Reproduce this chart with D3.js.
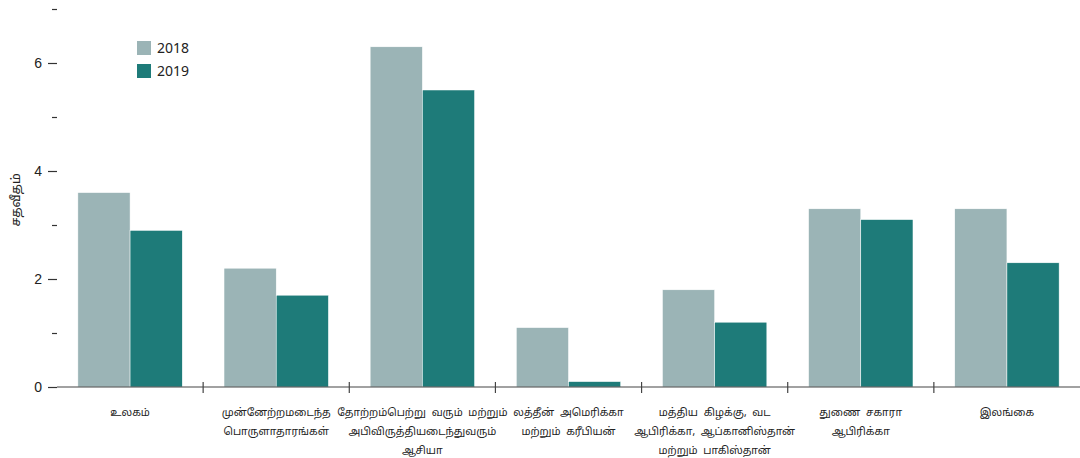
<!DOCTYPE html>
<html>
<head>
<meta charset="utf-8">
<script src="https://cdn.jsdelivr.net/npm/d3@7/dist/d3.min.js"></script>
<style>
  body { margin: 0; background: #fff; }
  svg { display: block; font-family: "Noto Sans", "Open Sans", sans-serif; }
  .cat { font-family: "Noto Sans Tamil", "Lohit Tamil", "Noto Sans", sans-serif; }
</style>
</head>
<body>
<svg id="chart" width="1080" height="458"></svg>
<script>
// categories, each split into the lines shown under the axis
const categories = [
  ["உலகம்"],
  ["முன்னேற்றமடைந்த", "பொருளாதாரங்கள்"],
  ["தோற்றம்பெற்று வரும் மற்றும்", "அபிவிருத்தியடைந்துவரும்", "ஆசியா"],
  ["லத்தீன் அமெரிக்கா", "மற்றும் கரீபியன்"],
  ["மத்திய கிழக்கு, வட", "ஆபிரிக்கா, ஆப்கானிஸ்தான்", "மற்றும் பாகிஸ்தான்"],
  ["துணை சகாரா", "ஆபிரிக்கா"],
  ["இலங்கை"]
];
const years = ["2018", "2019"];
const values2018 = [3.6, 2.2, 6.3, 1.1, 1.8, 3.3, 3.3];
const values2019 = [2.9, 1.7, 5.5, 0.1, 1.2, 3.1, 2.3];
const yTicks = [0, 2, 4, 6];
const yMinorTicks = [1, 3, 5, 7];
const colors = ["#9bb4b6", "#1e7b79"];
const yLabel = "சதவீதம்";

const svg = d3.select("#chart");
const mLeft = 57, mRight = 1080, mTop = 9, mBottom = 387;

const x = d3.scaleBand().domain(d3.range(categories.length)).range([mLeft, mRight]).paddingInner(0).paddingOuter(0);
const xSub = d3.scaleBand().domain(years).range([0, x.bandwidth()]).paddingInner(0).paddingOuter(0.4);
const y = d3.scaleLinear().domain([0, 7]).range([mBottom, mTop]);

const series = [values2018, values2019];

// bars
const groups = svg.append("g").selectAll("g")
  .data(categories)
  .join("g")
  .attr("transform", (d, i) => `translate(${x(i)},0)`);

groups.selectAll("rect")
  .data((d, i) => years.map((yr, k) => ({ yr, v: series[k][i], k })))
  .join("rect")
  .attr("x", d => xSub(d.yr))
  .attr("width", xSub.bandwidth())
  .attr("y", d => y(d.v))
  .attr("height", d => y(0) - y(d.v))
  .attr("fill", d => colors[d.k])
  .attr("stroke", "#fff")
  .attr("stroke-width", 0.5);

// y axis, no domain line
const yAxis = svg.append("g")
  .attr("transform", `translate(${mLeft},0)`)
  .call(d3.axisLeft(y).tickValues(yTicks).tickSize(9).tickPadding(6).tickFormat(d3.format("d")));
yAxis.select(".domain").remove();
yAxis.selectAll(".tick line").attr("stroke", "#333").attr("stroke-width", 1.2);
yAxis.selectAll(".tick text").attr("font-size", 14).attr("fill", "#222");

const yMinor = svg.append("g")
  .attr("transform", `translate(${mLeft},0)`)
  .call(d3.axisLeft(y).tickValues(yMinorTicks).tickSize(5).tickFormat(""));
yMinor.select(".domain").remove();
yMinor.selectAll(".tick line").attr("stroke", "#333").attr("stroke-width", 1.2);

// baseline and group separators
svg.append("line")
  .attr("x1", mLeft).attr("x2", mRight)
  .attr("y1", y(0)).attr("y2", y(0))
  .attr("stroke", "#444").attr("stroke-width", 1.2);

svg.append("g").selectAll("line")
  .data(d3.range(1, categories.length))
  .join("line")
  .attr("x1", i => x(i)).attr("x2", i => x(i))
  .attr("y1", y(0) - 5).attr("y2", y(0) + 6)
  .attr("stroke", "#444").attr("stroke-width", 1.2);

// category labels
const labels = svg.append("g").selectAll("text")
  .data(categories)
  .join("text")
  .attr("class", "cat")
  .attr("text-anchor", "middle")
  .attr("font-size", 10.5)
  .attr("word-spacing", 3)
  .attr("fill", "#222")
  .attr("x", (d, i) => x(i) + x.bandwidth() / 2)
  .attr("y", 416);
labels.selectAll("tspan")
  .data(d => d)
  .join("tspan")
  .attr("x", function () { return this.parentNode.getAttribute("x"); })
  .attr("dy", (d, j) => j === 0 ? 0 : 19)
  .text(d => d);

// y label
svg.append("text")
  .attr("class", "cat")
  .attr("transform", `translate(20,200) rotate(-90)`)
  .attr("text-anchor", "middle")
  .attr("font-size", 12.5)
  .attr("fill", "#222")
  .text(yLabel);

// legend
const legend = svg.append("g").attr("transform", "translate(137,41)");
legend.selectAll("rect")
  .data(years)
  .join("rect")
  .attr("x", 0)
  .attr("y", (d, i) => i * 23)
  .attr("width", 14).attr("height", 14)
  .attr("fill", (d, i) => colors[i]);
legend.selectAll("text")
  .data(years)
  .join("text")
  .attr("x", 20)
  .attr("y", (d, i) => i * 23 + 12)
  .attr("font-size", 14)
  .attr("fill", "#222")
  .text(d => d);
</script>
</body>
</html>
